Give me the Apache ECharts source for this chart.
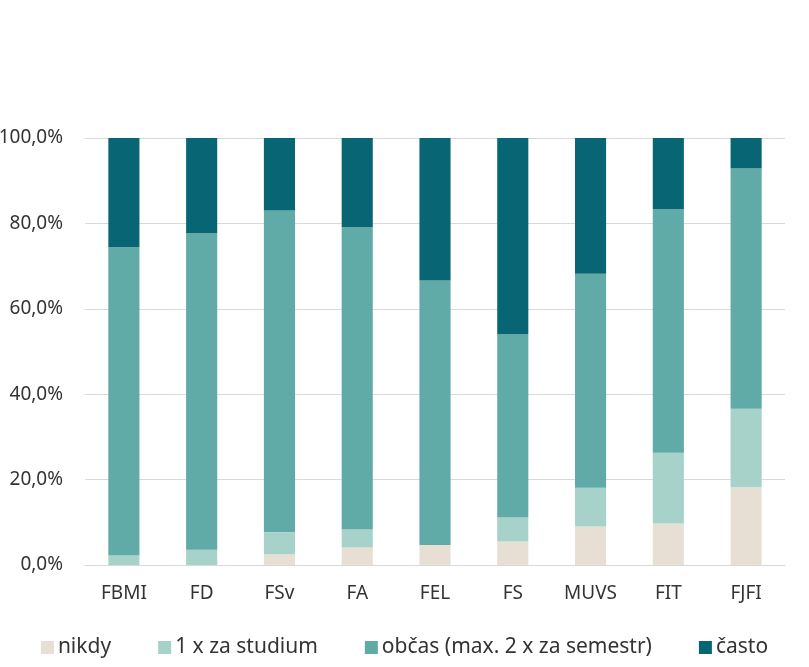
<!DOCTYPE html>
<html>
<head>
<meta charset="utf-8">
<script src="https://cdn.jsdelivr.net/npm/echarts@6/dist/echarts.min.js"></script>
<style>
  html, body { margin: 0; padding: 0; background: #fff; }
  #chart { width: 809px; height: 667px; }
</style>
</head>
<body>
<div id="chart"></div>
<script>
var categories = ['FBMI', 'FD', 'FSv', 'FA', 'FEL', 'FS', 'MUVS', 'FIT', 'FJFI']
var nikdy = [0, 0, 2.5, 4.1, 4.7, 5.5, 9.0, 9.7, 18.2]
var jednou = [2.2, 3.6, 5.2, 4.2, 0, 5.6, 9.1, 16.6, 18.4]
var obcas = [72.2, 74.1, 75.3, 70.8, 61.9, 43.0, 50.1, 57.0, 56.3]
var casto = [25.6, 22.3, 17.0, 20.9, 33.4, 45.9, 31.8, 16.7, 7.1]

var names = ['nikdy', '1 x za studium', 'občas (max. 2 x za semestr)', 'často']
var colors = ['#e8dfd4', '#a6d2ca', '#60aaa8', '#086674']
var font = 'Noto Sans'

var chart = echarts.init(document.getElementById('chart'))

function bar (i, data) {
  return {
    name: names[i],
    type: 'bar',
    stack: 'total',
    barWidth: '40%',
    data: data,
    itemStyle: { color: colors[i] },
    emphasis: { disabled: true }
  }
}

chart.setOption({
  animation: false,
  color: colors,
  grid: { left: 85, right: 24, top: 138, bottom: 102, containLabel: false, outerBoundsMode: 'none' },
  legend: {
    top: 632,
    left: 'center',
    icon: 'rect',
    itemWidth: 13,
    itemHeight: 13,
    itemGap: 47,
    textStyle: { fontFamily: font, fontSize: 21, color: '#333', padding: [0, 0, 0, -1] },
    data: names
  },
  xAxis: {
    type: 'category',
    data: categories,
    axisLine: { lineStyle: { color: '#d9d9d9', width: 1 } },
    axisTick: { show: false },
    axisLabel: { fontFamily: font, fontSize: 19, color: '#333', margin: 19 }
  },
  yAxis: {
    type: 'value',
    min: 0,
    max: 100,
    interval: 20,
    axisLine: { show: false },
    axisTick: { show: false },
    splitLine: { lineStyle: { color: '#d9d9d9', width: 1 } },
    axisLabel: {
      fontFamily: font,
      fontSize: 19,
      color: '#333',
      margin: 22,
      formatter: function (v) { return v.toFixed(1).replace('.', ',') + '%' }
    }
  },
  series: [bar(0, nikdy), bar(1, jednou), bar(2, obcas), bar(3, casto)]
})
</script>
</body>
</html>
